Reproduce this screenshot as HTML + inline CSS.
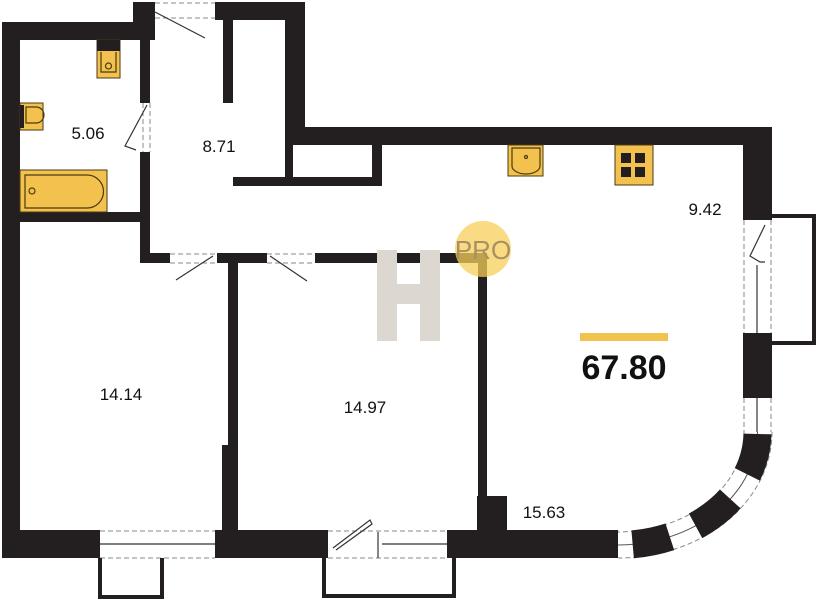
<!DOCTYPE html>
<html><head><meta charset="utf-8"><style>
html,body{margin:0;padding:0;background:#fff;}
svg{display:block;}
text{font-family:"Liberation Sans",sans-serif;fill:#111;}
</style></head><body>
<svg width="817" height="600" viewBox="0 0 817 600" xmlns="http://www.w3.org/2000/svg">
<g fill="#231f20">
<rect x="2" y="22" width="18" height="536"/>
<rect x="2" y="22" width="146" height="18"/>
<rect x="133" y="2" width="22" height="38"/>
<rect x="215" y="2" width="90" height="18"/>
<rect x="285" y="2" width="20" height="143"/>
<rect x="285" y="127" width="487" height="18"/>
<rect x="743" y="127" width="29" height="93"/>
<rect x="743" y="333" width="29" height="65"/>
<rect x="2" y="530" width="98" height="28"/>
<rect x="215" y="530" width="113" height="28"/>
<rect x="447" y="530" width="171" height="28"/>
<rect x="477" y="496" width="30" height="40"/>
<rect x="140" y="18" width="10" height="85"/>
<rect x="140" y="152" width="10" height="111"/>
<rect x="20" y="212" width="125" height="10"/>
<rect x="223" y="18" width="10" height="85"/>
<rect x="285" y="145" width="8" height="36"/>
<rect x="233" y="177" width="149" height="9"/>
<rect x="372" y="145" width="10" height="40"/>
<rect x="140" y="253" width="30" height="10"/>
<rect x="217" y="253" width="50" height="10"/>
<rect x="315" y="253" width="172" height="10"/>
<rect x="228" y="258" width="10" height="272"/>
<rect x="222" y="445" width="16" height="85"/>
<rect x="478" y="258" width="9" height="272"/>
</g>
<g stroke="#888" stroke-width="1" stroke-dasharray="5,3" fill="none">
<line x1="155" y1="3" x2="215" y2="3"/><line x1="155" y1="18" x2="215" y2="18"/>
<line x1="143" y1="103" x2="143" y2="152"/><line x1="150" y1="103" x2="150" y2="152"/>
<line x1="170" y1="254" x2="217" y2="254"/><line x1="170" y1="263" x2="217" y2="263"/>
<line x1="267" y1="254" x2="315" y2="254"/><line x1="267" y1="263" x2="315" y2="263"/>
<line x1="100" y1="531" x2="215" y2="531"/><line x1="100" y1="558" x2="215" y2="558"/>
<line x1="328" y1="531" x2="447" y2="531"/><line x1="328" y1="558" x2="447" y2="558"/>
<line x1="744" y1="220" x2="744" y2="333"/><line x1="771" y1="220" x2="771" y2="333"/>
<line x1="744" y1="398" x2="744" y2="432"/><line x1="771" y1="398" x2="771" y2="432"/>
<path d="M744 432 A126 100 0 0 1 618 532"/>
<path d="M772 432 A154 126 0 0 1 618 558"/>
</g>
<path d="M757.5 432 A140 113 0 0 1 618 545" fill="none" stroke="#555" stroke-width="1"/>
<path d="M757.5 432 A140 113 0 0 1 618 545" fill="none" stroke="#231f20" stroke-width="28" stroke-dasharray="0,2,42,30,44,28,38,40"/>
<g stroke="#333" stroke-width="1.2" fill="none">
<line x1="100" y1="544" x2="215" y2="544"/>
<line x1="382" y1="544" x2="447" y2="544"/>
<line x1="757" y1="265" x2="757" y2="333"/>
<line x1="757" y1="398" x2="757" y2="432"/>
<polyline points="147,105 125,146 136,150"/>
<line x1="155" y1="12" x2="205" y2="38"/>
<line x1="213" y1="256" x2="176" y2="280"/>
<line x1="270" y1="256" x2="307" y2="281"/>
<polyline points="333,548 370,520 372,524 336,550"/>
<line x1="378" y1="532" x2="378" y2="558"/>
<polyline points="765,225 750,256 760,262 765,262"/>
</g>
<g fill="none" stroke="#231f20" stroke-width="4">
<polyline points="100,558 100,597 162,597 162,558"/>
<polyline points="324,558 324,596 454,596 454,558"/>
<polyline points="772,216 814,216 814,343 772,343"/>
</g>
<g fill="#f2c14e" stroke="#4a3a10" stroke-width="1">
<rect x="97" y="40" width="23" height="38"/>
<rect x="20" y="103" width="23" height="27"/>
<rect x="20" y="170" width="87" height="42"/>
<rect x="508" y="145" width="35" height="31"/>
<rect x="615" y="145" width="38" height="40"/>
</g>
<rect x="97" y="40" width="23" height="11" fill="#231f20"/>
<rect x="20" y="105" width="4" height="23" fill="#231f20"/>
<g fill="none" stroke="#4a3a10" stroke-width="1.2">
<path d="M101 52 v20 h15 v-20"/><circle cx="108.5" cy="66" r="3"/>
<path d="M26 107 h10 a8 8 0 0 1 0 16 h-10z"/>
<path d="M25 175 h62 a14 14 0 0 1 0 33 h-62z"/><circle cx="32" cy="191" r="3"/>
<path d="M512 148 v18 a14 8 0 0 0 28 0 v-18z"/><circle cx="526" cy="157" r="1.5"/>
</g>
<g fill="#231f20">
<rect x="621" y="153" width="10" height="10"/><rect x="635" y="153" width="10" height="10"/>
<rect x="621" y="167" width="10" height="10"/><rect x="635" y="167" width="10" height="10"/>
</g>
<g fill="#ddd7d1">
<rect x="377" y="250" width="20" height="91"/>
<rect x="420" y="250" width="20" height="91"/>
<rect x="397" y="284" width="23" height="20"/>
</g>
<circle cx="483" cy="249" r="28" fill="#f6cf5a" opacity="0.75"/>
<text x="483" y="259" font-size="26" text-anchor="middle" style="fill:#a89060">PRO</text>
<rect x="580" y="333" width="88" height="8" fill="#f2c14e"/>
<text x="624" y="379" font-size="34" font-weight="bold" text-anchor="middle">67.80</text>
<g font-size="17" text-anchor="middle">
<text x="88" y="139">5.06</text>
<text x="219" y="152">8.71</text>
<text x="705" y="215">9.42</text>
<text x="121" y="400">14.14</text>
<text x="365" y="413">14.97</text>
<text x="544" y="518">15.63</text>
</g>
</svg>
</body></html>
